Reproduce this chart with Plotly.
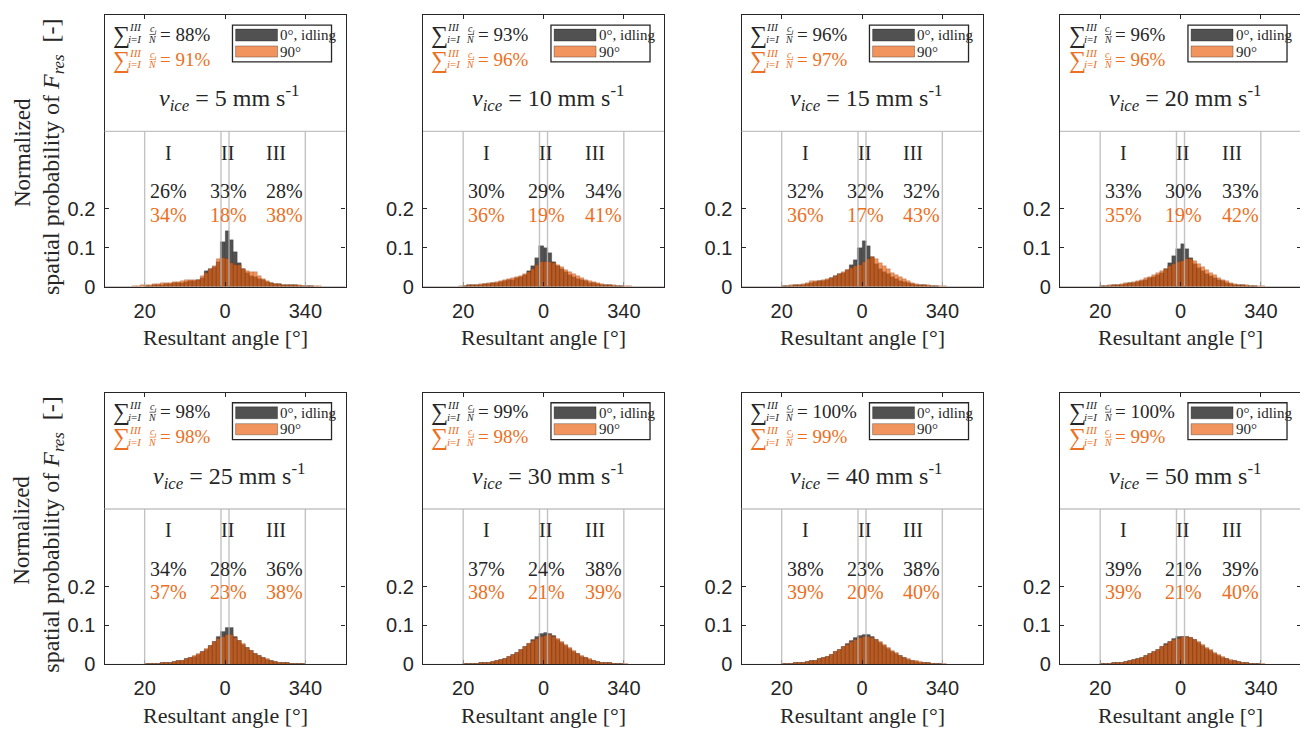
import plotly.graph_objects as go

# ---------------- data ----------------
ANGLE_BINS = [29.5, 28.5, 27.5, 26.5, 25.5, 24.5, 23.5, 22.5, 21.5, 20.5,
              19.5, 18.5, 17.5, 16.5, 15.5, 14.5, 13.5, 12.5, 11.5, 10.5,
              9.5, 8.5, 7.5, 6.5, 5.5, 4.5, 3.5, 2.5, 1.5, 0.5,
              -0.5, -1.5, -2.5, -3.5, -4.5, -5.5, -6.5, -7.5, -8.5, -9.5,
              -10.5, -11.5, -12.5, -13.5, -14.5, -15.5, -16.5, -17.5, -18.5, -19.5,
              -20.5, -21.5, -22.5, -23.5, -24.5, -25.5, -26.5, -27.5, -28.5, -29.5]

TICK_VALS = [20, 0, -20]
TICK_TEXT = ["20", "0", "340"]
Y_TICK_VALS = [0, 0.1, 0.2]
Y_TICK_TEXT = ["0", "0.1", "0.2"]
ZONE_LINES = [20, 1, -1, -20]
ZONE_NAMES = ["I", "II", "III"]

V_ICE = [5, 10, 15, 20, 25, 30, 40, 50]
SUM_0 = [88, 93, 96, 96, 98, 99, 100, 100]
SUM_90 = [91, 96, 97, 96, 98, 98, 99, 99]
ZONE_0 = [[26, 33, 28], [30, 29, 34], [32, 32, 32], [33, 30, 33],
          [34, 28, 36], [37, 24, 38], [38, 23, 38], [39, 21, 39]]
ZONE_90 = [[34, 18, 38], [36, 19, 41], [36, 17, 43], [35, 19, 42],
           [37, 23, 38], [38, 21, 39], [39, 20, 40], [39, 21, 40]]

P1_0 = [0, 0, 0, 0, 0, 0, 0, 0, 0, 0,
        .001, .002, .003, .004, .005, .006, .007, .008, .009, .010,
        .012, .013, .014, .016, .022, .040, .044, .050, .062, .115,
        .142, .120, .088, .060, .045, .035, .028, .024, .020, .016,
        .012, .009, .007, .006, .005, .004, .003, .003, .002, .002,
        .001, .001, 0, 0, 0, 0, 0, 0, 0, 0]
P1_90 = [0, 0, 0, 0, 0, 0, 0, .001, .002, .003,
         .004, .005, .006, .007, .008, .009, .010, .011, .012, .013,
         .016, .018, .018, .017, .028, .036, .044, .052, .070, .073,
         .070, .060, .056, .055, .046, .040, .038, .037, .028, .020,
         .013, .009, .007, .006, .005, .004, .004, .003, .003, .002,
         .002, .001, .001, .001, 0, 0, 0, 0, 0, 0]
P2_0 = [0, 0, 0, 0, 0, 0, 0, 0, 0, 0,
        .002, .003, .003, .004, .005, .006, .007, .008, .010, .012,
        .014, .016, .018, .021, .024, .030, .040, .052, .073, .104,
        .098, .087, .062, .052, .045, .037, .030, .025, .020, .016,
        .013, .010, .008, .006, .005, .004, .003, .002, .002, .001,
        0, 0, 0, 0, 0, 0, 0, 0, 0, 0]
P2_90 = [0, 0, 0, 0, 0, 0, 0, 0, 0, .001,
         .002, .003, .004, .005, .006, .007, .008, .010, .012, .014,
         .017, .020, .022, .024, .027, .031, .038, .046, .055, .062,
         .063, .064, .060, .056, .050, .043, .038, .032, .027, .022,
         .018, .014, .011, .008, .006, .005, .004, .003, .002, .002,
         .001, .001, 0, 0, 0, 0, 0, 0, 0, 0]
P3_0 = [0, 0, 0, 0, 0, 0, 0, 0, 0, 0,
        .001, .002, .002, .003, .004, .005, .007, .009, .011, .013,
        .015, .018, .022, .026, .031, .036, .042, .056, .069, .100,
        .117, .104, .075, .058, .046, .038, .031, .025, .020, .015,
        .012, .009, .007, .005, .004, .003, .002, .002, .001, 0,
        0, 0, 0, 0, 0, 0, 0, 0, 0, 0]
P3_90 = [0, 0, 0, 0, 0, 0, 0, 0, 0, 0,
         .001, .002, .003, .004, .005, .007, .010, .013, .014, .014,
         .016, .019, .023, .027, .031, .037, .042, .047, .052, .056,
         .062, .070, .076, .071, .060, .052, .044, .036, .030, .024,
         .019, .014, .010, .007, .005, .004, .003, .002, .002, .001,
         .001, 0, 0, 0, 0, 0, 0, 0, 0, 0]
P4_0 = [0, 0, 0, 0, 0, 0, 0, 0, 0, 0,
        .001, .002, .002, .003, .004, .005, .006, .008, .010, .012,
        .014, .017, .021, .025, .030, .036, .045, .060, .078, .096,
        .109, .096, .073, .058, .048, .040, .033, .027, .021, .017,
        .013, .010, .007, .005, .004, .003, .002, .002, .001, 0,
        0, 0, 0, 0, 0, 0, 0, 0, 0, 0]
P4_90 = [0, 0, 0, 0, 0, 0, 0, 0, 0, 0,
         .001, .002, .003, .004, .005, .006, .008, .010, .012, .014,
         .017, .021, .025, .029, .034, .040, .046, .052, .058, .063,
         .067, .072, .070, .065, .058, .050, .042, .035, .029, .022,
         .018, .013, .010, .007, .005, .004, .003, .002, .002, .001,
         .001, 0, 0, 0, 0, 0, 0, 0, 0, 0]
P5_0 = [0, 0, 0, 0, 0, 0, 0, 0, 0, 0,
        .001, .001, .002, .002, .003, .004, .005, .006, .008, .010,
        .013, .016, .020, .025, .031, .038, .047, .057, .070, .085,
        .094, .093, .072, .060, .051, .042, .034, .027, .021, .016,
        .012, .009, .007, .005, .004, .003, .002, .002, .001, .001,
        0, 0, 0, 0, 0, 0, 0, 0, 0, 0]
P5_90 = [0, 0, 0, 0, 0, 0, 0, 0, 0, 0,
         .001, .001, .002, .002, .003, .004, .005, .006, .008, .010,
         .013, .017, .021, .026, .032, .039, .048, .057, .067, .072,
         .076, .076, .068, .061, .052, .043, .035, .028, .022, .017,
         .013, .009, .007, .005, .004, .003, .002, .002, .001, .001,
         0, 0, 0, 0, 0, 0, 0, 0, 0, 0]
P6_0 = [0, 0, 0, 0, 0, 0, 0, 0, 0, 0,
        .001, .001, .002, .002, .003, .004, .005, .007, .009, .012,
        .015, .019, .024, .030, .037, .045, .053, .062, .071, .078,
        .080, .079, .073, .064, .056, .048, .040, .033, .026, .020,
        .016, .012, .009, .007, .005, .004, .003, .002, .001, .001,
        0, 0, 0, 0, 0, 0, 0, 0, 0, 0]
P6_90 = [0, 0, 0, 0, 0, 0, 0, 0, 0, 0,
         .001, .001, .002, .002, .003, .004, .005, .007, .009, .012,
         .015, .019, .024, .030, .037, .044, .052, .060, .066, .071,
         .074, .075, .072, .066, .058, .050, .042, .035, .028, .022,
         .017, .013, .010, .007, .005, .004, .003, .002, .002, .001,
         .001, 0, 0, 0, 0, 0, 0, 0, 0, 0]
P7_0 = [0, 0, 0, 0, 0, 0, 0, 0, 0, 0,
        .001, .001, .002, .003, .004, .005, .006, .008, .010, .013,
        .016, .020, .025, .031, .038, .045, .053, .061, .068, .074,
        .077, .076, .071, .064, .056, .048, .040, .033, .027, .021,
        .016, .012, .009, .007, .005, .004, .003, .002, .001, .001,
        0, 0, 0, 0, 0, 0, 0, 0, 0, 0]
P7_90 = [0, 0, 0, 0, 0, 0, 0, 0, 0, 0,
         .001, .001, .002, .003, .004, .005, .006, .008, .010, .013,
         .016, .020, .025, .031, .037, .044, .051, .058, .064, .069,
         .072, .072, .069, .064, .057, .050, .043, .036, .029, .023,
         .018, .014, .010, .008, .006, .004, .003, .002, .002, .001,
         .001, 0, 0, 0, 0, 0, 0, 0, 0, 0]
P8_0 = [0, 0, 0, 0, 0, 0, 0, 0, 0, 0,
        .001, .002, .002, .003, .004, .005, .007, .009, .011, .014,
        .017, .021, .026, .032, .038, .045, .052, .059, .065, .070,
        .072, .071, .068, .062, .055, .048, .041, .035, .028, .023,
        .018, .014, .010, .008, .006, .004, .003, .002, .001, .001,
        0, 0, 0, 0, 0, 0, 0, 0, 0, 0]
P8_90 = [0, 0, 0, 0, 0, 0, 0, 0, 0, 0,
         .001, .002, .002, .003, .004, .005, .007, .009, .011, .014,
         .017, .021, .026, .031, .037, .044, .050, .057, .063, .067,
         .070, .070, .068, .063, .057, .050, .043, .037, .030, .025,
         .019, .015, .011, .008, .006, .005, .003, .002, .002, .001,
         .001, 0, 0, 0, 0, 0, 0, 0, 0, 0]

SERIES_0 = [P1_0, P2_0, P3_0, P4_0, P5_0, P6_0, P7_0, P8_0]
SERIES_90 = [P1_90, P2_90, P3_90, P4_90, P5_90, P6_90, P7_90, P8_90]

# ---------------- style ----------------
# the page body has an 8 px margin, so the figure is drawn 8 px smaller
# and all positions are given in figure pixels (page pixels - 8)
W, H = 1300, 721
OFF = 8.0
COL_LEFT = [104.5 - OFF, 423.0 - OFF, 741.5 - OFF, 1060.0 - OFF]
ROW_TOP = [15.0 - OFF, 392.7 - OFF]
PW, PH = 241.0, 271.5

SERIF = "Liberation Serif, Times New Roman, serif"
SANS = "Liberation Sans, Arial, sans-serif"
DARK = "#262626"
ORANGE_TXT = "#EC6F22"
BAR0 = "rgba(20,20,20,0.74)"
BAR90 = "rgba(236,96,14,0.67)"
GRID = "rgba(185,185,185,0.85)"

fig = go.Figure()
annotations = []
shapes = []


def ann(text, xref, yref, x, y, size, color=DARK, xanchor="center",
        yanchor="middle", family=SERIF, angle=0):
    annotations.append(dict(text=text, xref=xref, yref=yref, x=x, y=y,
                            showarrow=False, xanchor=xanchor, yanchor=yanchor,
                            textangle=angle, borderpad=0, borderwidth=0,
                            font=dict(family=family, size=size, color=color)))


for i in range(8):
    r, c = divmod(i, 4)
    xa = "x" if i == 0 else f"x{i + 1}"
    ya = "y" if i == 0 else f"y{i + 1}"
    xk = "xaxis" if i == 0 else f"xaxis{i + 1}"
    yk = "yaxis" if i == 0 else f"yaxis{i + 1}"
    left, top = COL_LEFT[c], ROW_TOP[r]
    xd = [left / W, (left + PW) / W]
    yd = [(H - top - PH) / H, (H - top) / H]

    fig.add_trace(go.Bar(x=ANGLE_BINS, y=SERIES_0[i], width=1, xaxis=xa, yaxis=ya,
                         marker=dict(color=BAR0, line=dict(color="rgba(0,0,0,0.35)", width=0.5)),
                         showlegend=False, name="0°, idling"))
    fig.add_trace(go.Bar(x=ANGLE_BINS, y=SERIES_90[i], width=1, xaxis=xa, yaxis=ya,
                         marker=dict(color=BAR90, line=dict(color="rgba(70,25,0,0.35)", width=0.5)),
                         showlegend=False, name="90°"))

    fig.update_layout(**{
        xk: dict(domain=xd, range=[30, -30], anchor=ya, tickvals=TICK_VALS, ticktext=TICK_TEXT,
                 ticks="inside", ticklen=4, tickcolor=DARK, mirror="ticks", showline=True,
                 linecolor=DARK, linewidth=1.2, showgrid=False, zeroline=False,
                 ticklabelstandoff=6, automargin=False,
                 tickfont=dict(family=SANS, size=20, color=DARK)),
        yk: dict(domain=yd, range=[0, 0.7], anchor=xa, tickvals=Y_TICK_VALS, ticktext=Y_TICK_TEXT,
                 ticks="inside", ticklen=4, tickcolor=DARK, mirror="ticks", showline=True,
                 linecolor=DARK, linewidth=1.2, showgrid=False, zeroline=False,
                 ticklabelstandoff=4, automargin=False,
                 tickfont=dict(family=SANS, size=20, color=DARK)),
    })

    xdom, ydom = f"{xa} domain", f"{ya} domain"

    # zone lines and separator
    for zx in ZONE_LINES:
        shapes.append(dict(type="line", xref=xa, yref=ya, x0=zx, x1=zx, y0=0, y1=0.4,
                           line=dict(color=GRID, width=1.4), layer="above"))
    shapes.append(dict(type="line", xref=xdom, yref=ya, x0=0, x1=1, y0=0.4, y1=0.4,
                       line=dict(color=GRID, width=1.4), layer="above"))

    # zone labels and percentages
    for zname, zx in zip(ZONE_NAMES, [14.1, -0.6, -12.8]):
        ann(zname, xa, ya, zx, 0.345, 20)
    for k, zx in enumerate([14.1, -0.8, -14.9]):
        ann(f"{ZONE_0[i][k]}%", xa, ya, zx, 0.245, 20, DARK)
        ann(f"{ZONE_90[i][k]}%", xa, ya, zx, 0.185, 20, ORANGE_TXT)

    # sums
    for j, (val, col) in enumerate([(SUM_0[i], DARK), (SUM_90[i], ORANGE_TXT)]):
        dy = 25 * j

        def px(xp):
            return xp / PW

        def py(yp):
            return 1 - (yp + dy) / PH

        ann("∑", xdom, ydom, px(8.5), py(20), 24, col, xanchor="left")
        ann("<i>III</i>", xdom, ydom, px(24.5), py(12.5), 11, col, xanchor="left")
        ann("<i>i</i>=<i>I</i>", xdom, ydom, px(24), py(24), 11, col, xanchor="left")
        ann("<i>c</i><sub><i>i</i></sub>", xdom, ydom, px(48), py(15), 10, col)
        ann("<i>N</i>", xdom, ydom, px(48), py(24.5), 10, col)
        shapes.append(dict(type="line", xref=xdom, yref=ydom, x0=px(45), x1=px(51),
                           y0=py(19.5), y1=py(19.5), line=dict(color=col, width=0.7)))
        ann(f"= {val}%", xdom, ydom, px(55), py(19), 19, col, xanchor="left")

    # legend box
    shapes.append(dict(type="rect", xref=xdom, yref=ydom, x0=0.531, x1=0.942, y0=0.827, y1=0.963,
                       line=dict(color=DARK, width=1.3), fillcolor="white"))
    shapes.append(dict(type="rect", xref=xdom, yref=ydom, x0=0.544, x1=0.718, y0=0.904, y1=0.948,
                       line=dict(color="rgba(0,0,0,0.5)", width=0.6), fillcolor=BAR0))
    shapes.append(dict(type="rect", xref=xdom, yref=ydom, x0=0.544, x1=0.718, y0=0.845, y1=0.886,
                       line=dict(color="rgba(0,0,0,0.5)", width=0.6), fillcolor=BAR90))
    ann("0°, idling", xdom, ydom, 0.730, 0.926, 15, DARK, xanchor="left")
    ann("90°", xdom, ydom, 0.730, 0.865, 15, DARK, xanchor="left")

    # v_ice
    ann(f"<i>v</i><sub><i>ice</i></sub> = {V_ICE[i]} mm s<sup>-1</sup>", xdom, ydom,
        124.5 / PW, 1 - 83 / PH, 24)

    # x title
    ann("Resultant angle [°]", xdom, ydom, 0.5, -51 / PH, 22)

# y titles
for top in ROW_TOP:
    ann("Normalized", "paper", "paper", (22 - OFF) / W, 1 - (top + 138) / H, 23, angle=-90)
    ann("spatial probability of <i>F<sub>res</sub></i>  [-]", "paper", "paper",
        (53 - OFF) / W, 1 - (top + 142) / H, 24, angle=-90)

fig.update_layout(width=W, height=H, margin=dict(l=0, r=0, t=0, b=0, autoexpand=False),
                  paper_bgcolor="white", plot_bgcolor="white",
                  barmode="overlay", bargap=0, showlegend=False,
                  annotations=annotations, shapes=shapes)

fig.write_html("out.html")
